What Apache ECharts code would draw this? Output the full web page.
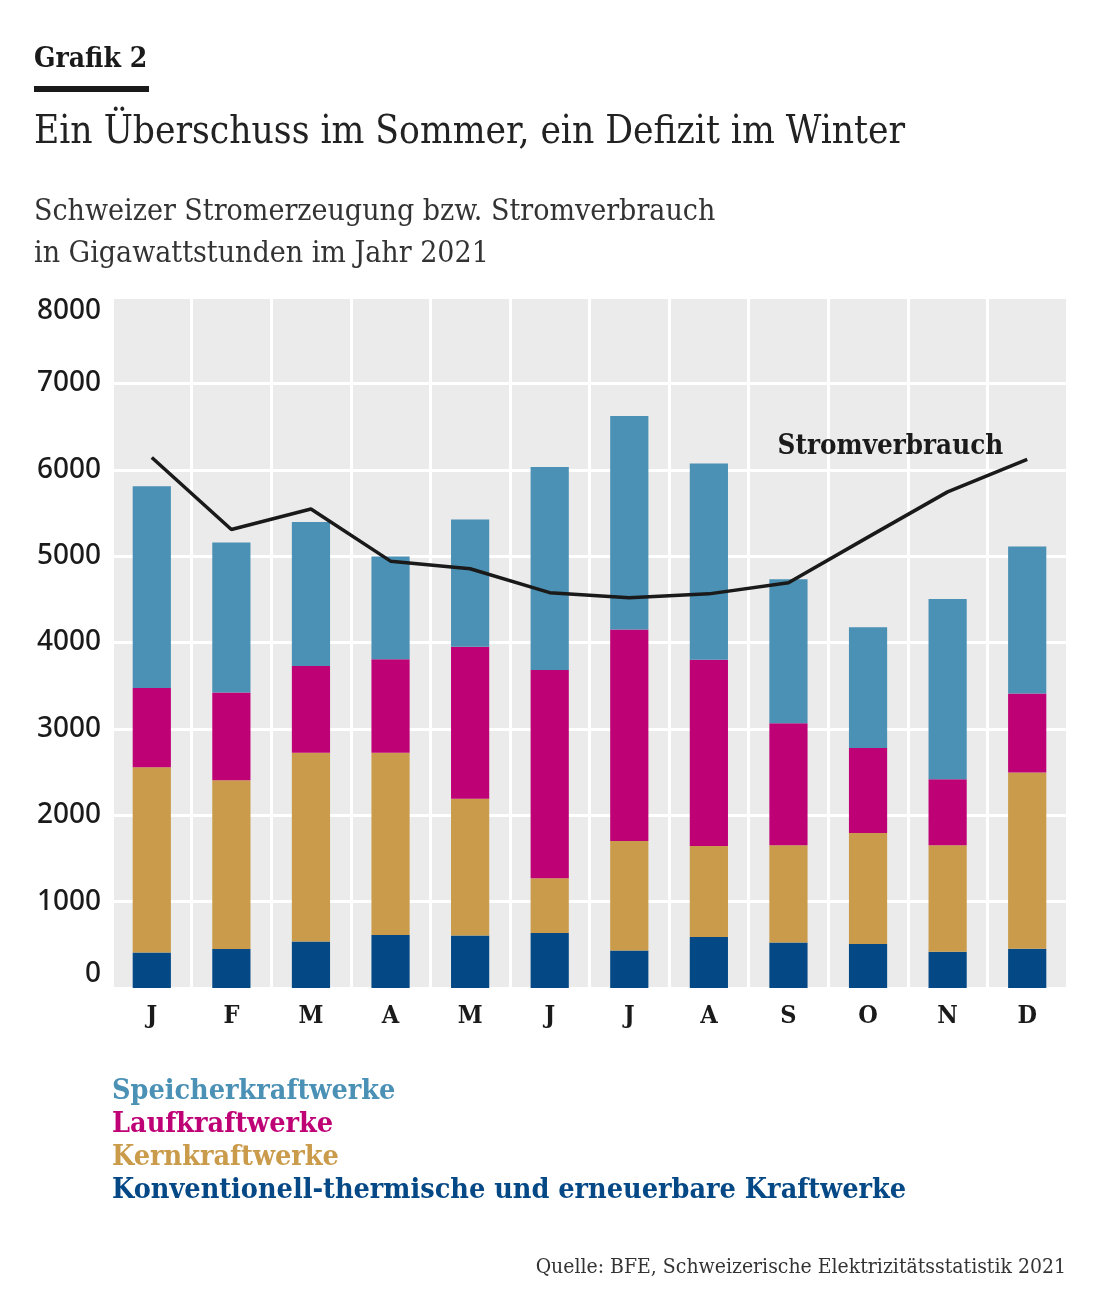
<!DOCTYPE html>
<html>
<head>
<meta charset="utf-8">
<script src="https://cdn.jsdelivr.net/npm/echarts@6/dist/echarts.min.js"></script>
<style>
  html, body { margin: 0; padding: 0; background: #fff; }
  #chart { width: 1119px; height: 1312px; }
</style>
</head>
<body>
<div id="chart"></div>
<script>
const months = ['J', 'F', 'M', 'A', 'M', 'J', 'J', 'A', 'S', 'O', 'N', 'D'];

// GWh per month
const konventionell = [410, 452, 537, 614, 607, 638, 435, 590, 526, 508, 421, 453];
const kern = [2145, 1952, 2188, 2111, 1584, 633, 1268, 1053, 1126, 1286, 1231, 2041];
const lauf = [919, 1016, 1004, 1082, 1759, 2412, 2448, 2156, 1414, 984, 764, 916];
const speicher = [2334, 1738, 1667, 1189, 1473, 2348, 2471, 2274, 1666, 1400, 2087, 1702];
const verbrauch = [6142, 5308, 5546, 4942, 4854, 4577, 4517, 4563, 4691, 5220, 5744, 6119];

const yTicks = [0, 1000, 2000, 3000, 4000, 5000, 6000, 7000, 8000];

const serif = '"DejaVu Serif Condensed", "DejaVu Serif", serif';
const sans = '"Noto Sans", "Open Sans", sans-serif';

const colors = {
    speicher: '#4a91b5',
    lauf: '#bf0176',
    kern: '#c99b4a',
    konv: '#044886'
};

const chart = echarts.init(document.getElementById('chart'));

const barSeries = (name, data, color) => ({
    name: name,
    type: 'bar',
    stack: 'prod',
    data: data,
    barWidth: '48%',
    itemStyle: { color: color },
    emphasis: { disabled: true }
});

const option = {
    backgroundColor: '#ffffff',
    animation: false,
    graphic: [
        {
            type: 'text', left: 34, top: 46,
            style: { text: 'Grafik 2', font: 'bold 28px ' + serif, fill: '#1a1a1a' }
        },
        {
            type: 'rect', left: 34, top: 86,
            shape: { width: 115, height: 6 },
            style: { fill: '#1a1a1a' }
        },
        {
            type: 'text', left: 34, top: 113,
            style: { text: 'Ein Überschuss im Sommer, ein Defizit im Winter', font: '38.5px ' + serif, fill: '#222' }
        },
        {
            type: 'text', left: 34, top: 191,
            style: { text: 'Schweizer Stromerzeugung bzw. Stromverbrauch\nin Gigawattstunden im Jahr 2021', font: '30px ' + serif, lineHeight: 42, fill: '#333' }
        },
        {
            type: 'text', right: 53, top: 1257,
            style: { text: 'Quelle: BFE, Schweizerische Elektrizitätsstatistik 2021', font: '21px ' + serif, fill: '#333' }
        }
    ],
    legend: {
        orient: 'vertical',
        left: 102,
        top: 1070,
        icon: 'none',
        itemWidth: 0,
        itemHeight: 14,
        itemGap: 0,
        selectedMode: false,
        textStyle: { fontFamily: serif, fontSize: 28.5, fontWeight: 'bold', lineHeight: 33 },
        data: [
            { name: 'Speicherkraftwerke', textStyle: { color: colors.speicher } },
            { name: 'Laufkraftwerke', textStyle: { color: colors.lauf } },
            { name: 'Kernkraftwerke', textStyle: { color: colors.kern } },
            { name: 'Konventionell-thermische und erneuerbare Kraftwerke', textStyle: { color: colors.konv } }
        ]
    },
    grid: {
        left: 112,
        right: 52,
        top: 297,
        bottom: 324,
        show: true,
        backgroundColor: '#ebebeb',
        borderWidth: 0
    },
    xAxis: {
        type: 'category',
        data: months,
        axisLine: { show: false },
        axisTick: { show: false },
        axisLabel: { margin: 16, fontFamily: serif, fontSize: 25, color: '#1a1a1a', fontWeight: 'bold' },
        splitLine: { show: true, lineStyle: { color: '#ffffff', width: 3 } }
    },
    yAxis: {
        type: 'value',
        min: yTicks[0],
        max: yTicks[yTicks.length - 1],
        interval: 1000,
        axisLine: { show: false },
        axisTick: { show: false },
        axisLabel: {
            margin: 11,
            fontFamily: sans,
            fontSize: 28,
            fontWeight: 500,
            color: '#1a1a1a',
            formatter: v => String(v),
            verticalAlignMaxLabel: 'top',
            verticalAlignMinLabel: 'bottom'
        },
        splitLine: { show: true, lineStyle: { color: '#ffffff', width: 3 } }
    },
    series: [
        barSeries('Konventionell-thermische und erneuerbare Kraftwerke', konventionell, colors.konv),
        barSeries('Kernkraftwerke', kern, colors.kern),
        barSeries('Laufkraftwerke', lauf, colors.lauf),
        barSeries('Speicherkraftwerke', speicher, colors.speicher),
        {
            name: 'Stromverbrauch',
            type: 'line',
            data: verbrauch,
            showSymbol: false,
            symbol: 'none',
            lineStyle: { color: '#1a1a1a', width: 3.5 },
            endLabel: {
                show: true,
                formatter: 'Stromverbrauch',
                align: 'right',
                distance: 0,
                offset: [-24, -13],
                fontFamily: serif,
                fontSize: 27.5,
                fontWeight: 'bold',
                color: '#1a1a1a'
            },
            z: 5,
            emphasis: { disabled: true }
        }
    ]
};

chart.setOption(option);
</script>
</body>
</html>
